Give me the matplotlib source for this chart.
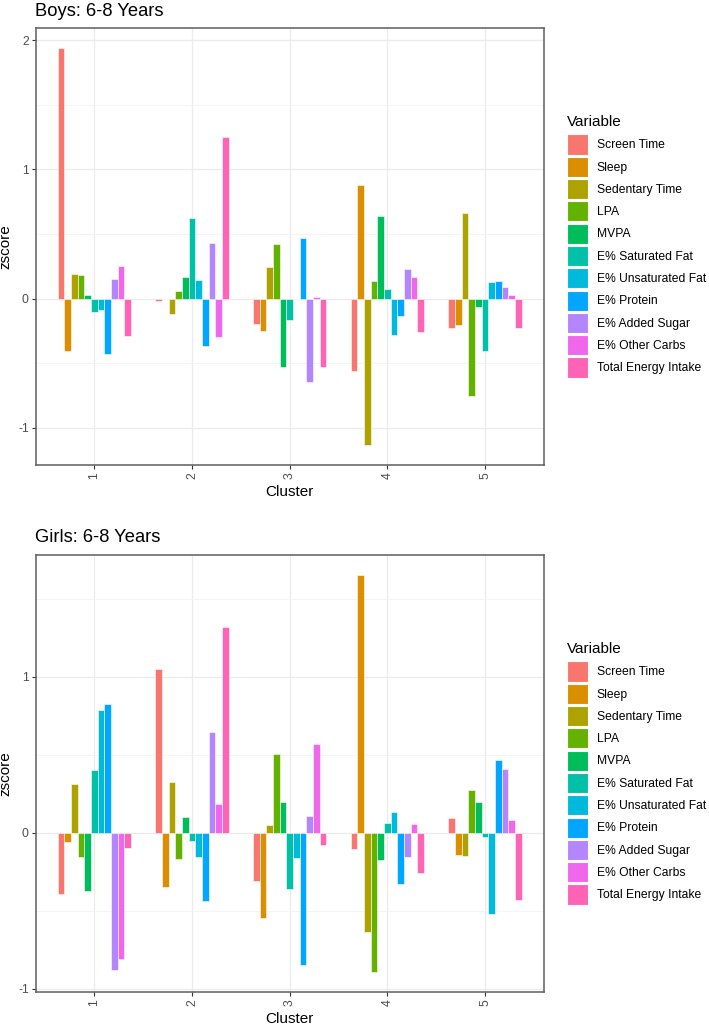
import numpy as np
import matplotlib
matplotlib.use("Agg")
import matplotlib.pyplot as plt
from matplotlib.patches import Patch
from matplotlib.ticker import MultipleLocator

plt.rcParams['font.family'] = ['Liberation Sans', 'DejaVu Sans']

# variables (legend order) and ggplot hue colours
variables = ['Screen Time', 'Sleep', 'Sedentary Time', 'LPA', 'MVPA',
             'E% Saturated Fat', 'E% Unsaturated Fat', 'E% Protein',
             'E% Added Sugar', 'E% Other Carbs', 'Total Energy Intake']
colors = ['#F8766D', '#DB8E00', '#AEA200', '#64B200', '#00BD5C', '#00C1A7',
          '#00BADE', '#00A6FF', '#B385FF', '#EF67EB', '#FF63B6']
clusters = [1, 2, 3, 4, 5]

# zscores per cluster (one value per variable)
boys_c1 = [1.94, -0.406, 0.188, 0.18, 0.026, -0.105, -0.085, -0.43, 0.149, 0.254, -0.288]
boys_c2 = [-0.015, 0.0, -0.123, 0.057, 0.167, 0.622, 0.147, -0.368, 0.432, -0.30, 1.252]
boys_c3 = [-0.20, -0.25, 0.247, 0.422, -0.527, -0.167, 0.0, 0.465, -0.645, 0.01, -0.53]
boys_c4 = [-0.56, 0.879, -1.134, 0.139, 0.64, 0.075, -0.283, -0.134, 0.226, 0.167, -0.262]
boys_c5 = [-0.229, -0.208, 0.66, -0.753, -0.062, -0.406, 0.126, 0.134, 0.093, 0.028, -0.229]

girls_c1 = [-0.394, -0.062, 0.315, -0.156, -0.373, 0.405, 0.789, 0.827, -0.881, -0.812, -0.10]
girls_c2 = [1.048, -0.349, 0.326, -0.165, 0.103, -0.051, -0.152, -0.44, 0.647, 0.186, 1.318]
girls_c3 = [-0.309, -0.547, 0.051, 0.508, 0.195, -0.362, -0.163, -0.847, 0.105, 0.566, -0.077]
girls_c4 = [-0.105, 1.653, -0.635, -0.893, -0.176, 0.064, 0.133, -0.33, -0.152, 0.058, -0.255]
girls_c5 = [0.094, -0.144, -0.15, 0.272, 0.20, -0.026, -0.521, 0.469, 0.41, 0.079, -0.429]

boys = np.array([boys_c1, boys_c2, boys_c3, boys_c4, boys_c5])
girls = np.array([girls_c1, girls_c2, girls_c3, girls_c4, girls_c5])

W, H = 709, 1027
fig = plt.figure(figsize=(W / 100, H / 100), dpi=100)


def panel(rect, data, title, title_y):
    ax = fig.add_axes(rect)
    n = len(variables)
    w = 0.75 / n
    x = np.array(clusters, dtype=float)
    for i, (var, col) in enumerate(zip(variables, colors)):
        ax.bar(x + (i - (n - 1) / 2) * w, data[:, i], width=w, color=col,
               edgecolor='white', linewidth=0.4, zorder=3)

    lo, hi = min(data.min(), 0), max(data.max(), 0)
    pad = 0.05 * (hi - lo)
    ax.set_ylim(lo - pad, hi + pad)
    ax.set_xlim(0.4, 5.6)
    ax.set_xticks(clusters)
    ax.set_xticklabels([str(c) for c in clusters], rotation=90)
    ax.yaxis.set_major_locator(MultipleLocator(1))
    ax.yaxis.set_minor_locator(MultipleLocator(0.5))
    ax.yaxis.set_major_formatter(matplotlib.ticker.FuncFormatter(lambda v, p: f"{v:g}"))

    ax.grid(which='major', color='#EBEBEB', linewidth=0.9, zorder=0)
    ax.grid(which='minor', axis='y', color='#F3F3F3', linewidth=0.6, zorder=0)
    ax.tick_params(which='major', length=3, width=0.8, color='#333333',
                   labelcolor='#4D4D4D', labelsize=8.8, pad=2)
    ax.tick_params(which='minor', length=0)
    for s in ax.spines.values():
        s.set_color('#5E5E5E')
        s.set_linewidth(1.1)

    ax.set_ylabel('zscore', fontsize=11)
    ax.yaxis.set_label_coords(-0.045, 0.5)
    ax.set_xlabel('Cluster', fontsize=11)
    ax.xaxis.set_label_coords(0.5, -0.045)

    handles = [Patch(facecolor=c, edgecolor='white', linewidth=0.8) for c in colors]
    leg = ax.legend(handles, variables, title='Variable', loc='center left',
                    bbox_to_anchor=(1.046, 0.5), frameon=False, fontsize=8.7,
                    title_fontsize=11, handlelength=1.72, handleheight=2.17,
                    handletextpad=0.72, labelspacing=0.19, borderpad=0,
                    borderaxespad=0, alignment='left')
    # a little more room between the title and the keys
    leg._legend_box.sep = 3.6

    fig.text(35 / W, 1 - title_y / H, title, fontsize=13.2, ha='left', va='center')
    return ax


panel([35.7 / W, 1 - 465 / H, 508 / W, 437 / H], boys, 'Boys: 6-8 Years', 11)
panel([35.7 / W, 1 - 992 / H, 508 / W, 437 / H], girls, 'Girls: 6-8 Years', 537)

fig.savefig('out.png', dpi=100)
